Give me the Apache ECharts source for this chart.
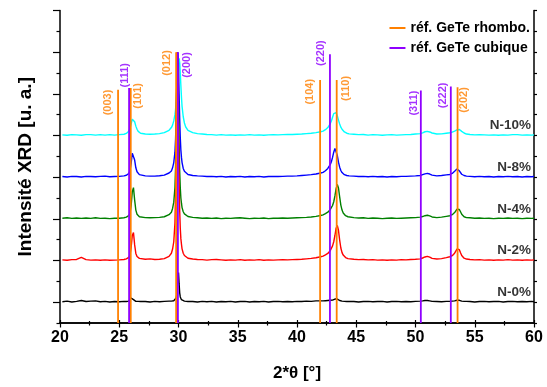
<!DOCTYPE html>
<html>
<head>
<meta charset="utf-8">
<script src="https://cdn.jsdelivr.net/npm/echarts@6/dist/echarts.min.js"></script>
<style>html,body{margin:0;padding:0;background:#fff}#c{width:547px;height:387px}</style>
</head>
<body>
<div id="c"></div>
<script>
// 2θ sampling grid (degrees)
const twoTheta = [
  20.2,20.6,21.0,21.4,21.8,22.2,22.6,23.0,23.4,23.8,24.2,24.6,25.0,25.4,
  25.6,25.7,25.8,25.9,26.0,26.1,26.2,26.3,26.4,26.5,26.6,26.7,26.8,
  27.2,27.6,28.0,28.4,28.8,29.2,
  29.4,29.5,29.6,29.7,29.75,29.8,29.85,29.9,29.95,30.0,30.05,30.1,30.15,30.2,30.25,30.3,30.4,30.5,30.6,30.8,
  31.2,31.6,32.0,32.4,32.8,33.2,33.6,34.0,34.4,34.8,35.2,35.6,36.0,36.4,36.8,37.2,37.6,38.0,38.4,38.8,39.2,39.6,40.0,40.4,40.8,41.2,41.6,42.0,
  42.2,42.3,42.4,42.5,42.6,42.7,42.8,42.9,43.0,43.1,43.2,43.3,43.4,43.5,43.6,43.7,43.8,43.9,44.0,44.1,44.2,44.3,44.4,
  44.8,45.2,45.6,46.0,46.4,46.8,47.2,47.6,48.0,48.4,48.8,49.2,49.6,50.0,50.4,
  50.6,50.8,51.0,51.2,51.4,
  51.8,52.2,52.6,
  52.9,53.0,53.1,53.2,53.3,53.4,53.5,53.6,53.7,53.8,53.9,54.0,54.1,54.2,54.3,
  54.6,55.0,55.4,55.8,56.2,56.6,57.0,57.4,57.8,58.2,58.6,59.0,59.4,59.8,60.0
];

// sample names and stacking offsets (u. a.)
const sampleNames = ['N-0%','N-2%','N-4%','N-8%','N-10%'];
const sampleOffsets = [1, 3, 5, 7, 9];

// intensities above each sample's own baseline (u. a.)
const intN0 = [
  0.02,0.05,0.01,0.04,0.08,0.03,0.05,0.06,0.02,0.04,0.01,0.03,0.02,0.04,
  0.03,0.04,0.05,0.08,0.2,0.29,0.12,0.06,0.04,0.03,0.04,0.02,0.03,
  0.03,0.01,0.04,0.02,0.04,0.05,
  0.05,0.06,0.07,0.1,0.13,0.2,0.35,0.7,1.2,1.42,0.9,0.45,0.25,0.16,0.12,0.09,0.06,0.05,0.04,0.03,
  0.03,0.01,0.04,0.02,0.04,0.01,0.03,0.02,0.04,0.01,0.03,0.04,0.01,0.03,0.02,0.04,0.01,0.03,0.04,0.02,0.03,0.02,0.04,0.03,0.05,0.04,0.06,0.06,
  0.06,0.07,0.07,0.08,0.08,0.09,0.09,0.1,0.1,0.12,0.15,0.19,0.15,0.1,0.08,0.07,0.05,0.05,0.04,0.04,0.03,0.04,0.03,
  0.03,0.01,0.03,0.04,0.02,0.03,0.04,0.01,0.03,0.04,0.02,0.03,0.02,0.04,0.05,
  0.06,0.08,0.08,0.06,0.04,
  0.03,0.02,0.04,
  0.04,0.04,0.05,0.05,0.06,0.07,0.09,0.1,0.09,0.07,0.05,0.04,0.04,0.03,0.04,
  0.03,0.01,0.03,0.04,0.02,0.03,0.04,0.01,0.03,0.04,0.02,0.03,0.02,0.04,0.02
];
const intN2 = [
  0.03,0.01,0.04,0.05,0.15,0.04,0.02,0.03,0.01,0.03,0.01,0.02,0.03,0.05,
  0.08,0.1,0.15,0.25,0.6,1.2,1.34,0.75,0.34,0.19,0.13,0.1,0.08,
  0.06,0.08,0.05,0.06,0.09,0.2,
  0.35,0.55,0.9,1.8,3.0,5.5,8.5,10.0,9.0,6.2,3.8,2.4,1.55,1.05,0.78,0.56,0.35,0.24,0.17,0.11,
  0.07,0.05,0.04,0.02,0.04,0.05,0.03,0.01,0.03,0.02,0.04,0.01,0.03,0.02,0.04,0.01,0.03,0.02,0.03,0.04,0.03,0.04,0.05,0.06,0.08,0.1,0.13,0.18,
  0.21,0.24,0.27,0.3,0.34,0.4,0.47,0.56,0.7,0.9,1.2,1.55,1.68,1.45,0.98,0.6,0.38,0.26,0.19,0.14,0.11,0.09,0.08,
  0.06,0.04,0.05,0.03,0.04,0.02,0.03,0.01,0.03,0.02,0.04,0.03,0.05,0.06,0.08,
  0.12,0.17,0.2,0.16,0.1,
  0.07,0.09,0.14,
  0.18,0.2,0.23,0.28,0.35,0.45,0.55,0.6,0.52,0.37,0.24,0.16,0.11,0.09,0.07,
  0.05,0.03,0.04,0.02,0.03,0.01,0.03,0.02,0.04,0.02,0.03,0.01,0.03,0.02,0.03
];
const intN4 = [
  0.03,0.05,0.02,0.04,0.02,0.04,0.02,0.05,0.02,0.03,0.01,0.03,0.03,0.05,
  0.08,0.1,0.15,0.26,0.62,1.3,1.5,0.9,0.42,0.22,0.14,0.1,0.08,
  0.06,0.05,0.06,0.07,0.1,0.2,
  0.32,0.5,0.8,1.5,2.4,4.2,6.5,8.0,7.6,5.6,3.6,2.3,1.5,1.0,0.75,0.54,0.34,0.24,0.17,0.11,
  0.07,0.05,0.03,0.04,0.02,0.04,0.01,0.03,0.02,0.04,0.05,0.03,0.01,0.03,0.02,0.04,0.01,0.03,0.03,0.04,0.03,0.04,0.05,0.06,0.07,0.09,0.12,0.16,
  0.19,0.22,0.25,0.28,0.32,0.37,0.44,0.52,0.64,0.82,1.1,1.45,1.65,1.48,1.05,0.66,0.42,0.28,0.2,0.15,0.12,0.1,0.08,
  0.06,0.04,0.05,0.02,0.04,0.03,0.01,0.03,0.04,0.02,0.03,0.04,0.05,0.06,0.08,
  0.11,0.15,0.17,0.14,0.09,
  0.06,0.08,0.12,
  0.15,0.17,0.2,0.24,0.3,0.38,0.46,0.5,0.45,0.34,0.22,0.15,0.1,0.08,0.06,
  0.05,0.03,0.04,0.02,0.03,0.01,0.03,0.02,0.04,0.02,0.03,0.01,0.03,0.02,0.03
];
const intN8 = [
  0.03,0.01,0.04,0.03,0.01,0.04,0.03,0.02,0.04,0.05,0.02,0.03,0.04,0.06,
  0.09,0.12,0.17,0.3,0.65,1.15,1.2,0.82,0.45,0.26,0.17,0.12,0.09,
  0.06,0.05,0.05,0.07,0.1,0.2,
  0.3,0.45,0.7,1.2,1.8,2.8,4.2,5.5,6.0,5.4,4.0,2.8,1.9,1.3,0.95,0.7,0.42,0.28,0.2,0.13,
  0.08,0.06,0.05,0.03,0.04,0.02,0.04,0.01,0.03,0.02,0.04,0.01,0.03,0.02,0.04,0.01,0.03,0.04,0.03,0.04,0.05,0.05,0.06,0.08,0.1,0.12,0.15,0.2,
  0.23,0.27,0.31,0.36,0.42,0.5,0.6,0.74,0.95,1.2,1.38,1.32,1.05,0.72,0.48,0.32,0.22,0.16,0.12,0.1,0.08,0.07,0.06,
  0.05,0.03,0.04,0.02,0.04,0.02,0.03,0.01,0.03,0.02,0.04,0.04,0.05,0.06,0.08,
  0.12,0.16,0.18,0.15,0.1,
  0.06,0.08,0.11,
  0.13,0.15,0.18,0.22,0.28,0.35,0.39,0.37,0.3,0.21,0.14,0.1,0.08,0.06,0.05,
  0.04,0.02,0.04,0.02,0.03,0.01,0.03,0.02,0.04,0.02,0.03,0.01,0.03,0.02,0.03
];
const intN10 = [
  0.03,0.01,0.04,0.03,0.01,0.04,0.04,0.02,0.04,0.02,0.04,0.02,0.04,0.06,
  0.1,0.13,0.2,0.33,0.55,0.78,0.82,0.66,0.45,0.3,0.2,0.15,0.11,
  0.07,0.06,0.07,0.09,0.14,0.25,
  0.38,0.5,0.7,1.0,1.25,1.6,2.1,2.7,3.2,3.6,3.7,3.5,3.0,2.4,1.85,1.4,0.9,0.6,0.42,0.25,
  0.14,0.09,0.07,0.05,0.04,0.02,0.04,0.02,0.03,0.01,0.03,0.02,0.04,0.02,0.03,0.01,0.03,0.04,0.03,0.04,0.05,0.05,0.06,0.07,0.09,0.11,0.14,0.18,
  0.21,0.24,0.28,0.32,0.38,0.46,0.56,0.7,0.88,1.05,1.13,1.1,0.95,0.74,0.55,0.4,0.3,0.22,0.17,0.14,0.11,0.09,0.08,
  0.06,0.04,0.05,0.02,0.04,0.03,0.01,0.03,0.04,0.02,0.03,0.04,0.05,0.07,0.09,
  0.13,0.18,0.2,0.17,0.12,
  0.07,0.08,0.11,
  0.13,0.14,0.16,0.18,0.21,0.24,0.27,0.29,0.29,0.25,0.2,0.15,0.12,0.09,0.07,
  0.05,0.03,0.04,0.03,0.02,0.03,0.01,0.03,0.02,0.04,0.04,0.02,0.03,0.02,0.03
];
const sampleIntensities = [intN0, intN2, intN4, intN8, intN10];

// reference reflections
const rhomboName = 'réf. GeTe rhombo.';
const rhomboPos  = [24.9, 25.97, 29.8, 41.95, 43.35, 53.55];
const rhomboTop  = [11.2, 11.28, 13.0, 11.67, 11.67, 11.32];
const rhomboHkl  = ['(003)','(101)','(012)','(104)','(110)','(202)'];

const cubicName = 'réf. GeTe cubique';
const cubicPos  = [25.83, 29.95, 42.78, 50.45, 52.98];
const cubicTop  = [11.28, 13.0, 12.9, 11.16, 11.35];
const cubicHkl  = ['(111)','(200)','(220)','(311)','(222)'];

// axis ticks
const xTickValues = [20,25,30,35,40,45,50,55,60];
const yMajorTicks = [1,3,5,7,9,11,13,15];
const yMinorTicks = [0,2,4,6,8,10,12,14];

// ---- layout / style (not data) ----
const FONT = 'Arial, "Liberation Sans", sans-serif';
const sampleColors = ['#000000','#ff0000','#008000','#0000ff','#00ffff'];
const drawOrder = [4,3,2,1,0];
const rhomboColor = '#ff8000';
const cubicColor = '#8f00ff';
// screen offsets [dx, dy] of each hkl label's upper end relative to the line top
const rhomboLabelOffset = [[-10,0],[7.5,-5],[-9,-2],[-10,-1],[9.5,-4],[6,0]];
const cubicLabelOffset  = [[-4.5,-25],[9,0],[-9,-14],[-7,0],[-8,-4]];

const series = [];
drawOrder.forEach(k => {
  series.push({
    type: 'line', name: sampleNames[k], showSymbol: false, symbol: 'none',
    data: twoTheta.map((t, i) => [t, sampleOffsets[k] + sampleIntensities[k][i]]),
    lineStyle: { color: sampleColors[k], width: 1.4 },
    itemStyle: { color: sampleColors[k] },
    animation: false, silent: true, z: 2
  });
});
function addRefs(name, pos, top, hkl, color, offs) {
  pos.forEach((p, i) => {
    series.push({
      type: 'line', name: name, symbol: 'none',
      data: [[p, 0], [p, top[i]]],
      lineStyle: { color: color, width: 1.8 },
      itemStyle: { color: color },
      animation: false, silent: true, z: 3
    });
  });
  series.push({
    type: 'scatter', name: name + ' hkl', symbolSize: 0,
    data: pos.map((p, i) => ({
      value: [p, top[i]],
      // label offset is expressed in the rotated text frame
      label: { offset: [-offs[i][1], offs[i][0]] }
    })),
    label: {
      show: true, position: 'inside', rotate: 90, align: 'right', verticalAlign: 'middle',
      formatter: (d) => hkl[d.dataIndex],
      color: color, fontFamily: FONT, fontWeight: 'bold', fontSize: 11
    },
    animation: false, silent: true, z: 4
  });
}
addRefs(rhomboName, rhomboPos, rhomboTop, rhomboHkl, rhomboColor, rhomboLabelOffset);
addRefs(cubicName, cubicPos, cubicTop, cubicHkl, cubicColor, cubicLabelOffset);

// sample name labels at the right end of each trace
series.push({
  type: 'scatter', name: 'sample labels', symbolSize: 0,
  data: sampleNames.map((n, k) => ({ value: [60, sampleOffsets[k]], name: n })),
  label: {
    show: true, position: 'inside', align: 'right', verticalAlign: 'bottom',
    offset: [-3, -3], formatter: (d) => d.name,
    color: '#000', fontFamily: FONT, fontWeight: 'bold', fontSize: 13.5
  },
  animation: false, silent: true, z: 5
});

const axisLineStyle = { color: '#000', width: 1.5 };
const option = {
  animation: false,
  backgroundColor: '#fff',
  grid: { left: 60, right: 13, top: 10.5, bottom: 63.7 },
  legend: {
    data: [rhomboName, cubicName],
    orient: 'vertical', right: 12, top: 16,
    icon: 'rect', itemWidth: 16, itemHeight: 2, itemGap: 6,
    textStyle: { fontFamily: FONT, fontWeight: 'bold', fontSize: 14, color: '#000' },
    selectedMode: false
  },
  xAxis: [
    {
      type: 'value', min: 20, max: 60, interval: 5, position: 'bottom',
      name: '2*θ [°]', nameLocation: 'middle', nameGap: 42,
      nameTextStyle: { fontFamily: FONT, fontWeight: 'bold', fontSize: 17, color: '#000' },
      axisLine: { show: true, lineStyle: axisLineStyle },
      axisTick: { show: true, inside: false, length: 4.5, lineStyle: { color: '#000', width: 1.2 } },
      minorTick: { show: true, splitNumber: 2, length: 2.5, lineStyle: { color: '#000', width: 1.2 } },
      axisLabel: { fontFamily: FONT, fontWeight: 'bold', fontSize: 16, color: '#000', margin: 7,
        customValues: xTickValues },
      splitLine: { show: false }
    },
    {
      type: 'value', min: 20, max: 60, interval: 5, position: 'top',
      axisLine: { show: true, lineStyle: axisLineStyle },
      axisTick: { show: true, inside: false, length: 3, lineStyle: { color: '#000', width: 1.2 } },
      minorTick: { show: true, splitNumber: 2, length: 2, lineStyle: { color: '#000', width: 1.2 } },
      axisLabel: { show: false }, splitLine: { show: false }
    }
  ],
  yAxis: [
    {
      type: 'value', min: 0, max: 15, position: 'left',
      name: 'Intensité XRD [u. a.]', nameLocation: 'middle', nameGap: 25,
      nameTextStyle: { fontFamily: FONT, fontWeight: 'bold', fontSize: 19, color: '#000' },
      axisLine: { show: true, lineStyle: axisLineStyle },
      axisTick: { show: true, inside: false, length: 7, customValues: yMajorTicks, lineStyle: { color: '#000', width: 1.2 } },
      axisLabel: { show: false }, splitLine: { show: false }
    },
    {
      type: 'value', min: 0, max: 15, position: 'left',
      axisLine: { show: false },
      axisTick: { show: true, inside: false, length: 3.5, customValues: yMinorTicks, lineStyle: { color: '#000', width: 1.2 } },
      axisLabel: { show: false }, splitLine: { show: false }
    },
    {
      type: 'value', min: 0, max: 15, position: 'right',
      axisLine: { show: true, lineStyle: axisLineStyle },
      axisTick: { show: true, inside: false, length: 3, customValues: yMajorTicks.concat(yMinorTicks), lineStyle: { color: '#000', width: 1.2 } },
      axisLabel: { show: false }, splitLine: { show: false }
    }
  ],
  series: series
};

const chart = echarts.init(document.getElementById('c'), null, { renderer: 'canvas' });
chart.setOption(option);
</script>
</body>
</html>
